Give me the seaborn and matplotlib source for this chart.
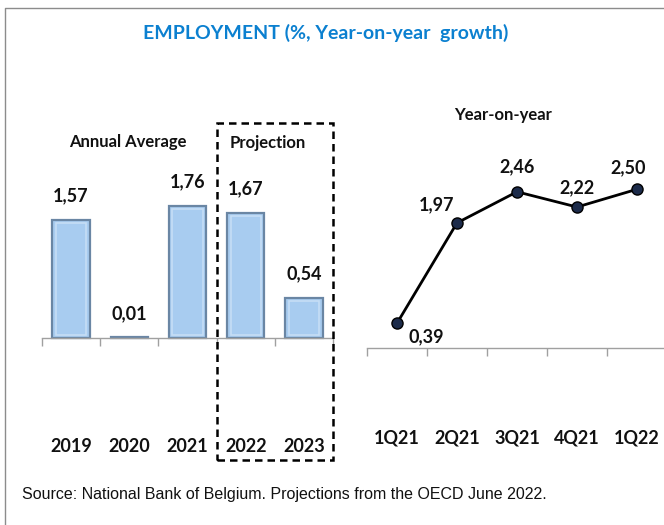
import matplotlib
matplotlib.use("Agg")
import matplotlib.pyplot as plt
from matplotlib.patches import Rectangle
from matplotlib.lines import Line2D
import seaborn as sns
import pandas as pd

# Annual averages (left panel)
years = ["2019", "2020", "2021", "2022", "2023"]
annual_growth = [1.57, 0.01, 1.76, 1.67, 0.54]

# Quarterly year-on-year growth (right panel)
quarters = ["1Q21", "2Q21", "3Q21", "4Q21", "1Q22"]
quarterly_growth = [0.39, 1.97, 2.46, 2.22, 2.50]

title = "EMPLOYMENT (%, Year-on-year  growth)"
source = "Source: National Bank of Belgium. Projections from the OECD June 2022."

sns.set_theme(style="white")
plt.rcParams["font.family"] = ["Lato", "DejaVu Sans"]

W, H = 664, 525
fig = plt.figure(figsize=(W / 100, H / 100), dpi=100)


def fx(px):
    return px / W


def fy(py):
    return 1 - py / H


def fmt(v):
    return f"{v:.2f}".replace(".", ",")


AX_TOP, AX_BOT = 130, 460

# ---- left panel: bars ----
ax1 = fig.add_axes([fx(42), fy(AX_BOT), fx(333) - fx(42), fy(AX_TOP) - fy(AX_BOT)])
df_a = pd.DataFrame({"year": years, "growth": annual_growth})
sns.barplot(data=df_a, x="year", y="growth", color="#a8ccf0", width=0.64,
            edgecolor="#6a86a4", linewidth=1.6, saturation=1, ax=ax1)
ax1.set_xlim(-0.5, 4.5)
ax1.set_ylim(-122 / 75, 208 / 75)

# soft inner highlight on each bar for a bevelled look
for bar in ax1.patches:
    if bar.get_height() > 0.05:
        x0, y0 = bar.get_x(), bar.get_y()
        w, h = bar.get_width(), bar.get_height()
        ax1.add_patch(Rectangle((x0 + 0.06, y0 + 0.04), w - 0.12, h - 0.08,
                                fill=False, edgecolor="#c6def5", linewidth=1.2,
                                zorder=bar.get_zorder() + 0.1))

for i, v in enumerate(annual_growth):
    ax1.annotate(fmt(v), (i, v), xytext=(0, 24), textcoords="offset pixels",
                 ha="center", va="center", fontsize=13, fontweight="bold",
                 color="#111111")

# ---- right panel: line ----
ax2 = fig.add_axes([fx(367), fy(AX_BOT), fx(667) - fx(367), fy(AX_TOP) - fy(AX_BOT)])
df_q = pd.DataFrame({"quarter": quarters, "growth": quarterly_growth})
sns.lineplot(data=df_q, x="quarter", y="growth", sort=False, color="black",
             linewidth=2, marker="o", markersize=8, markerfacecolor="#1c2b4a",
             markeredgecolor="black", markeredgewidth=1, ax=ax2)
ax2.set_xlim(-0.5, 4.5)
ax2.set_ylim(-112 / 63.5, 218 / 63.5)

label_offsets = [(29, -14), (-20, 18), (0, 25), (0, 19), (-9, 21)]
for i, (v, (dx, dy)) in enumerate(zip(quarterly_growth, label_offsets)):
    ax2.annotate(fmt(v), (i, v), xytext=(dx, dy), textcoords="offset pixels",
                 ha="center", va="center", fontsize=13, fontweight="bold",
                 color="#111111")

# shared axis styling: baseline at zero, boundary ticks, labels low
for ax, cats, label_y in ((ax1, years, (AX_BOT - 447) / (AX_BOT - AX_TOP)),
                          (ax2, quarters, (AX_BOT - 438) / (AX_BOT - AX_TOP))):
    for side in ("left", "right", "top"):
        ax.spines[side].set_visible(False)
    ax.spines["bottom"].set_position(("data", 0))
    ax.spines["bottom"].set_color("#a0a0a0")
    ax.spines["bottom"].set_linewidth(1)
    ax.set_yticks([])
    ax.set_xticks([i - 0.5 for i in range(len(cats) + 1)])
    ax.set_xticklabels([])
    ax.tick_params(axis="x", direction="out", length=6, width=1,
                   color="#a0a0a0", bottom=True)
    ax.set_xlabel("")
    ax.set_ylabel("")
    ax.patch.set_alpha(0)
    xt = ax.get_xaxis_transform()
    for i, c in enumerate(cats):
        ax.text(i, label_y, c, transform=xt, ha="center", va="center",
                fontsize=13, fontweight="bold", color="#111111")

# panel headings
fig.text(fx(128), fy(142), "Annual Average", ha="center", va="center",
         fontsize=12, fontweight="bold", color="#111111")
fig.text(fx(268), fy(143), "Projection", ha="center", va="center",
         fontsize=12, fontweight="bold", color="#111111")
fig.text(fx(503), fy(115), "Year-on-year", ha="center", va="center",
         fontsize=12, fontweight="bold", color="#111111")

# projection box
fig.patches.append(Rectangle((fx(217), fy(460)), fx(333) - fx(217), fy(123) - fy(460),
                             transform=fig.transFigure, fill=False,
                             edgecolor="black", linewidth=1.8,
                             linestyle=(0, (3, 2))))

# title and source
fig.text(fx(326), fy(33), title, ha="center", va="center", fontsize=14,
         fontweight="bold", color="#0b80d0")
fig.text(fx(22), fy(495), source, ha="left", va="center", fontsize=11.5,
         family=["Liberation Sans", "DejaVu Sans"], color="#111111")

# outer frame (left and top edges)
fig.lines.append(Line2D([fx(5), fx(5), 1.0], [0.0, fy(8), fy(8)],
                        transform=fig.transFigure, color="#8c8c8c", linewidth=1))

fig.savefig("out.png", dpi=100)
